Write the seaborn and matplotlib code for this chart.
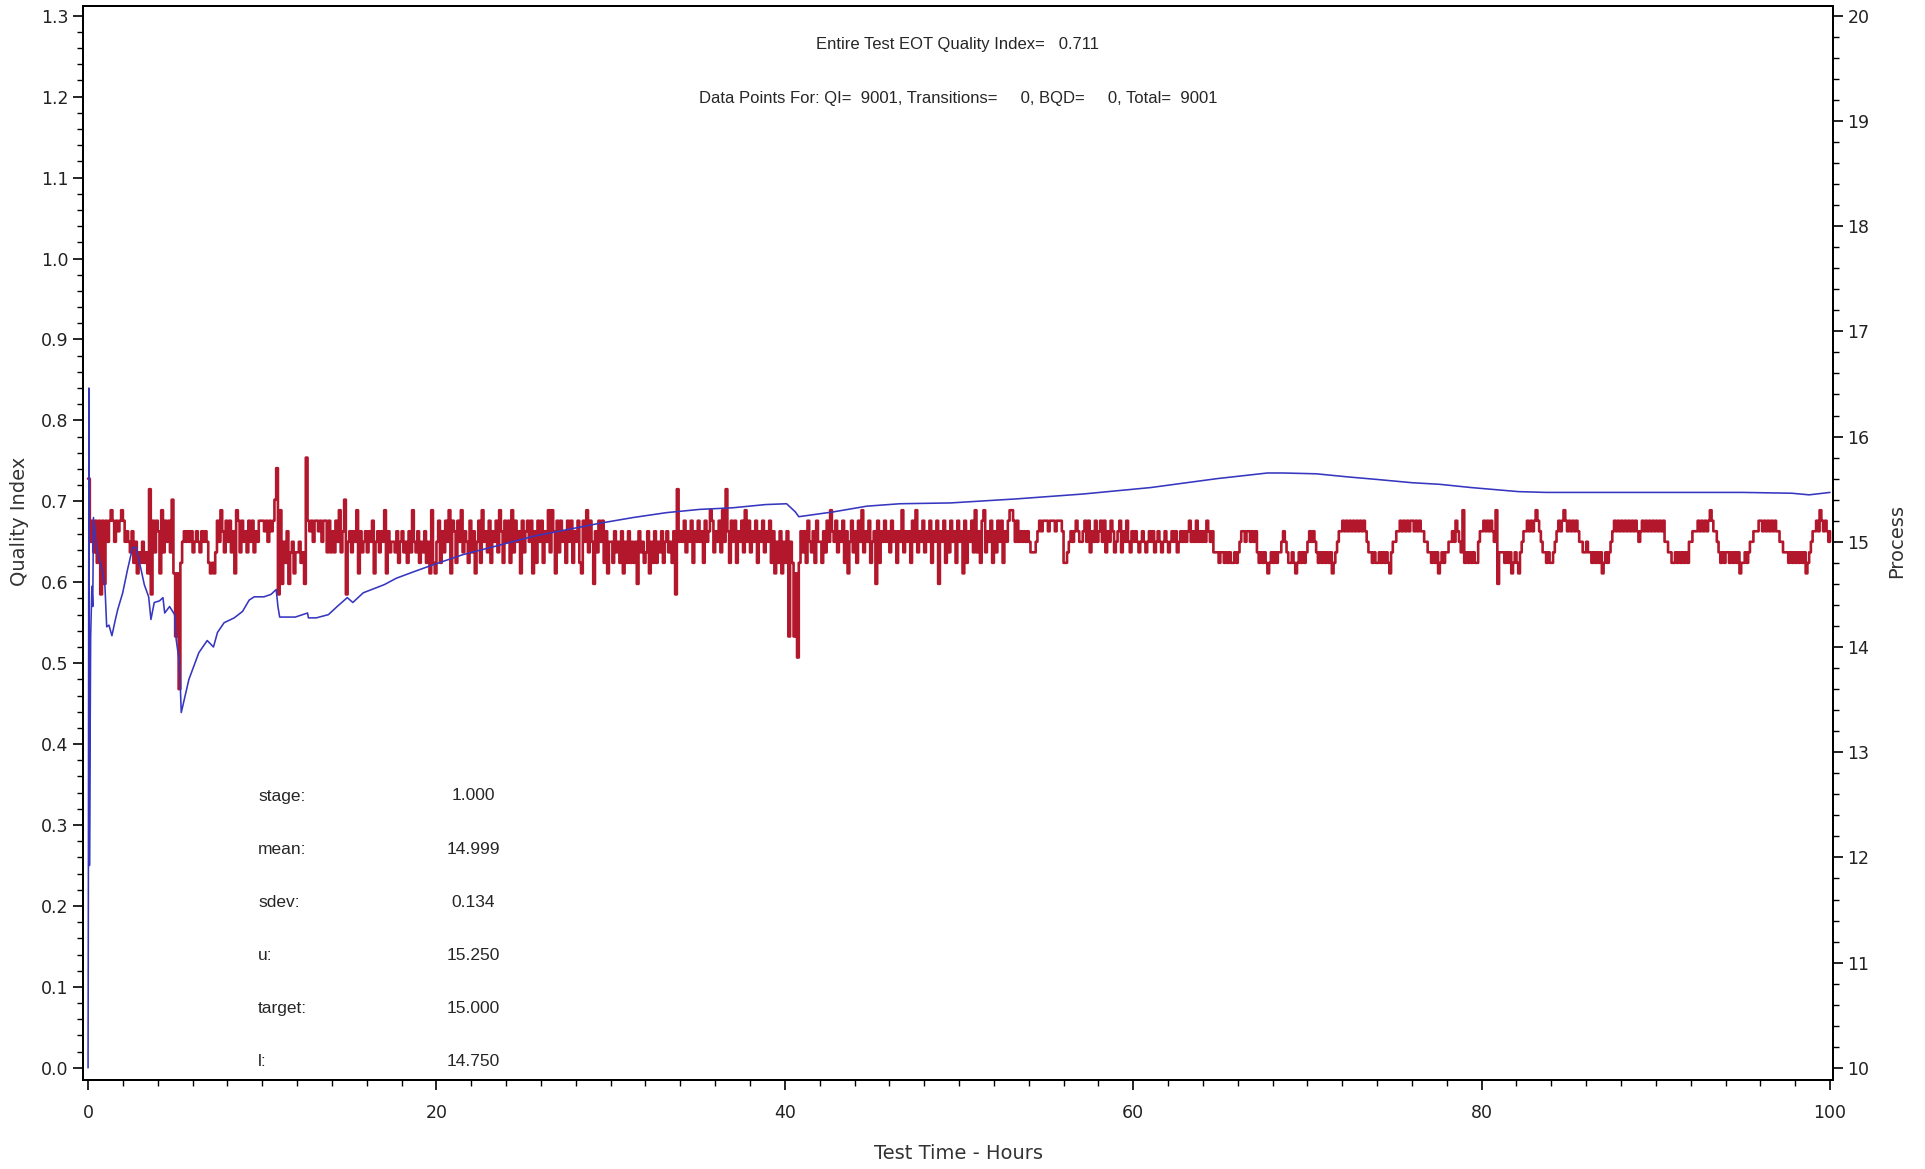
import matplotlib
matplotlib.use("Agg")
import matplotlib.pyplot as plt
import numpy as np
import seaborn as sns
from matplotlib.ticker import MultipleLocator, FormatStrFormatter

# blue series: quality index vs test time
qi_hours = [0.0, 0.02, 0.05, 0.08, 0.15, 0.22, 0.27, 0.31, 0.5, 0.8, 0.97, 1.07, 1.2, 1.37,
            1.57, 1.7, 1.99, 2.27, 2.56, 2.75, 3.04, 3.23, 3.48, 3.61, 3.8, 4.1, 4.3, 4.4,
            4.68, 4.97, 5.06, 5.25, 5.35, 5.79, 6.36, 6.84, 7.2, 7.43, 7.81, 8.39, 8.87,
            9.25, 9.54, 10.1, 10.5, 10.8, 10.9, 11.0, 11.9, 12.6, 12.65, 13.1, 13.8, 14.3,
            14.88, 15.2, 15.8, 17.0, 17.7, 18.7, 19.6, 21.5, 23.65, 25.6, 27.5, 29.4, 31.3,
            33.2, 35.1, 37.0, 38.9, 40.1, 40.6, 40.8, 42.8, 44.7, 46.6, 49.5, 53.3, 57.1,
            61.0, 64.8, 67.7, 68.6, 70.5, 72.4, 74.0, 76.0, 77.6, 79.4, 82.1, 83.7, 89.7,
            95.0, 97.8, 98.8, 100.0]
qi_values = [0.0, 0.25, 0.84, 0.25, 0.533, 0.595, 0.57, 0.68, 0.64, 0.616, 0.595, 0.545,
             0.547, 0.534, 0.554, 0.566, 0.587, 0.616, 0.643, 0.643, 0.616, 0.597, 0.582,
             0.554, 0.575, 0.577, 0.581, 0.562, 0.57, 0.56, 0.529, 0.5, 0.439, 0.48, 0.513,
             0.528, 0.52, 0.538, 0.55, 0.556, 0.564, 0.578, 0.582, 0.582, 0.585, 0.591,
             0.57, 0.557, 0.557, 0.562, 0.556, 0.556, 0.56, 0.57, 0.581, 0.575, 0.587,
             0.597, 0.605, 0.613, 0.62, 0.634, 0.646, 0.657, 0.665, 0.673, 0.68, 0.686,
             0.69, 0.692, 0.696, 0.697, 0.687, 0.681, 0.687, 0.694, 0.697, 0.698, 0.703,
             0.709, 0.717, 0.728, 0.735, 0.735, 0.734, 0.73, 0.727, 0.723, 0.721, 0.717,
             0.712, 0.711, 0.711, 0.711, 0.71, 0.708, 0.711]

# red series: process value, one code per 0.1 h; code c -> 14.5 + 0.1 * c
process_step_hours = 0.1
process_base = 14.5
process_unit = 0.1
process_codes = [
    "757" "4737071" "7578757678756" "546352435342" "40" "74762847574" "927263"
    "565656456546565" "3232" "47586475746287475647574657" "7",
    "7675767" "98081" "53614524" "45341" "7" "76757767577" "474647584690"
    "56465826456465725646582645" "5463564536485463546" "352832",
    "5736475827" "6375846537" "4625738564" "7365748637" "5738475627"
    "4675726375" "7365848627" "4756375736" "5732758475" "1647573625",
    "5364536253" "6353516453" "4625363546" "3564536045" "6574657365"
    "7563756874" "6574859637" "5736574857" "4657365746" "5736253625",
    "3625362536" "4637546375" "5364758657" "4657362574" "6375846573"
    "5617365756" "4756365846" "5637584657" "4657365716" "5736475637",
    "5627365748" "4637846573" "6475736578" "8757565656" "5444567677"
    "7677767776" "3345656765" "5675746575" "6757465764" "5674657546",
    "5654565456" "5645654565" "4565645656" "5675657565" "6576564443"
    "4434343343" "4566566565" "6434343234" "3434456543" "3432343434",
    "5656543434" "3434234566" "7676767676" "7676544343" "3434343245"
    "5667676767" "7676766554" "4343423434" "4556576548" "3434343356",
    "6767676581" "4443434234" "3245667676" "7876544343" "3456767876"
    "7676765544" "5443434342" "3434567676" "7676767676" "5676767676",
    "7676755443" "3434343435" "5666767676" "7876654343" "4434343423"
    "3434556667" "7676767676" "6554443434" "3434342345" "6676876765" "6",
]
# isolated excursions outside the coded band
spike_hours = [0.0, 3.5, 5.0, 5.2, 10.8, 12.5, 33.8, 36.6, 40.2, 40.5, 40.7]
spike_values = [15.6, 15.5, 14.1, 13.6, 15.7, 15.8, 15.5, 15.5, 14.1, 14.1, 13.9]

stat_labels = ["stage:", "mean:", "sdev:", "u:", "target:", "l:"]
stat_values = ["1.000", "14.999", "0.134", "15.250", "15.000", "14.750"]

title_line1 = "Entire Test EOT Quality Index=   0.711"
title_line2 = "Data Points For: QI=  9001, Transitions=     0, BQD=     0, Total=  9001"

RED = "#b3172c"
BLUE = "#3636c0"

codes = "".join(process_codes)
process = np.array([process_base + process_unit * int(c) for c in codes])
hours = np.arange(len(process)) * process_step_hours
for t, v in zip(spike_hours, spike_values):
    process[int(round(t / process_step_hours))] = v

sns.set_style("ticks")
plt.rcParams["font.family"] = ["DejaVu Sans"]
narrow = ["Liberation Sans", "DejaVu Sans"]

W, H = 1925, 1169
fig = plt.figure(figsize=(W / 100, H / 100), dpi=100)
ax = fig.add_axes([83 / W, 1 - 1080 / H, 1750 / W, 1074 / H])
ax2 = ax.twinx()

qi_lo, qi_hi = -0.015, 1.312
ax.set_xlim(-0.29, 100.17)
ax.set_ylim(qi_lo, qi_hi)
ax2.set_ylim(10 + qi_lo * 10 / 1.3, 10 + qi_hi * 10 / 1.3)

sns.lineplot(x=hours, y=process, ax=ax2, color=RED, linewidth=1.9,
             estimator=None, sort=False, drawstyle="steps-post")
sns.lineplot(x=qi_hours, y=qi_values, ax=ax, color=BLUE, linewidth=1.15,
             estimator=None, sort=False)
ax.set_zorder(ax2.get_zorder() + 1)
ax.patch.set_visible(False)

ax.set_xticks(range(0, 101, 20))
ax.xaxis.set_minor_locator(MultipleLocator(2))
ax.set_yticks(np.arange(0, 1.31, 0.1))
ax.yaxis.set_minor_locator(MultipleLocator(0.02))
ax.yaxis.set_major_formatter(FormatStrFormatter("%.1f"))
ax2.set_yticks(range(10, 21))
ax2.yaxis.set_minor_locator(MultipleLocator(0.2))

for a in (ax, ax2):
    for s in a.spines.values():
        s.set_linewidth(1.4)
        s.set_color("black")
    a.tick_params(which="major", length=7, width=1.2, labelsize=12.5, colors="black",
                  labelcolor="#222222")
    a.tick_params(which="minor", length=4, width=1.0, colors="black")
ax.tick_params(axis="x", pad=10)
ax.tick_params(axis="y", which="both", right=False)
ax.tick_params(axis="x", which="both", top=False)

ax.set_xlabel("Test Time - Hours", fontsize=14, color="#333333")
ax.xaxis.set_label_coords(0.5, -0.060)
ax.set_ylabel("Quality Index", fontsize=14, color="#333333")
ax.yaxis.set_label_coords(-0.031, 0.52)
ax2.set_ylabel("Process", fontsize=14, color="#333333", rotation=90)
ax2.yaxis.set_label_coords(1.031, 0.502)

fig.text(958 / W, 1 - 45 / H, title_line1, ha="center", va="center", fontsize=12,
         family=narrow)
fig.text(958 / W, 1 - 98 / H, title_line2, ha="center", va="center", fontsize=12,
         family=narrow)

for i, (lab, val) in enumerate(zip(stat_labels, stat_values)):
    y = 1 - (796 + i * 53.2) / H
    fig.text(258 / W, y, lab, ha="left", va="center", fontsize=12.5, family=narrow)
    fig.text(473 / W, y, val, ha="center", va="center", fontsize=12.5, family=narrow)

fig.savefig("out.png", dpi=100)
